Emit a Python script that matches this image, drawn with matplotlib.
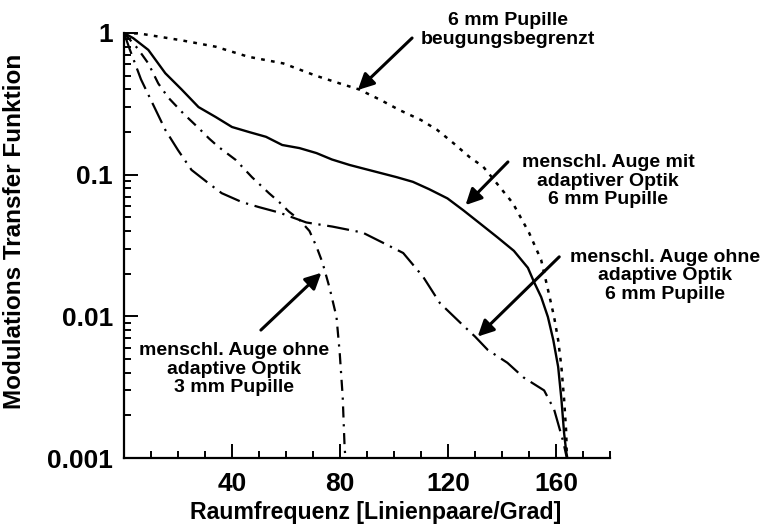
import matplotlib
matplotlib.use("Agg")
import matplotlib.pyplot as plt
from matplotlib.ticker import FixedLocator, LogLocator, NullFormatter

plt.rcParams['font.family'] = ['Liberation Sans', 'DejaVu Sans']
plt.rcParams['font.weight'] = 'bold'

# diffraction limited, 6 mm pupil (dotted)
x_diff = [0, 6, 21, 34, 46, 59, 71, 80, 87, 95, 102, 110, 116, 122, 128, 133, 137,
          144, 150, 154.5, 157, 159.3, 160.8, 162, 163, 163.8, 164]
y_diff = [1.0, 0.99, 0.89, 0.80, 0.68, 0.61, 0.50, 0.44, 0.40, 0.337, 0.286, 0.243,
          0.207, 0.167, 0.133, 0.114, 0.092, 0.063, 0.039, 0.025, 0.0155, 0.0099,
          0.0068, 0.0044, 0.0026, 0.0015, 0.001]

# human eye with adaptive optics, 6 mm pupil (solid)
x_ao = [0, 3.4, 9, 15.3, 21.3, 27.6, 34, 40, 46.3, 52.6, 58.6, 65, 71.3, 77, 83.6, 89,
        94.8, 101, 107, 113, 119.8, 125.7, 132, 138.4, 144.4, 149.6, 151.9, 154.5, 157,
        159, 160.8, 162, 163, 163.8, 164.2]
y_ao = [1.0, 0.92, 0.76, 0.52, 0.40, 0.30, 0.255, 0.217, 0.20, 0.185, 0.162, 0.154,
        0.142, 0.128, 0.117, 0.110, 0.103, 0.096, 0.089, 0.079, 0.068, 0.056, 0.045,
        0.036, 0.029, 0.022, 0.0174, 0.0137, 0.0099, 0.0068, 0.0044, 0.0026, 0.0015,
        0.0011, 0.001]

# human eye without adaptive optics, 3 mm pupil (dash-dot)
x_3mm = [0, 5, 9, 12.7, 16.4, 22, 28, 31.5, 35, 41.4, 47.4, 53.7, 57.5, 61, 65, 68.7,
         71.3, 73.5, 76.1, 78.7, 79.9, 81, 81.7, 82]
y_3mm = [1.0, 0.78, 0.61, 0.44, 0.35, 0.27, 0.21, 0.18, 0.157, 0.127, 0.096, 0.074,
         0.064, 0.055, 0.048, 0.040, 0.031, 0.024, 0.016, 0.0099, 0.0055, 0.0027,
         0.0012, 0.001]

# human eye without adaptive optics, 6 mm pupil (long dash)
x_6mm = [0, 2.2, 6.3, 11.6, 15.3, 20, 25, 31.3, 36.2, 43.7, 50, 57.5, 62.3, 67.5, 77.2,
         88.4, 96, 103.4, 110.8, 117, 124.6, 130, 134.7, 142, 148, 155.6, 159.3, 162.7,
         164]
y_6mm = [1.0, 0.76, 0.47, 0.29, 0.207, 0.149, 0.108, 0.087, 0.074, 0.064, 0.059, 0.054,
         0.050, 0.046, 0.043, 0.039, 0.033, 0.028, 0.019, 0.0124, 0.0090, 0.0072,
         0.0058, 0.0047, 0.0037, 0.0030, 0.0022, 0.0013, 0.001]

x_major = [40, 80, 120, 160]
y_major = [0.001, 0.01, 0.1, 1]
y_labels = ['0.001', '0.01', '0.1', '1']

fig = plt.figure(figsize=(7.62, 5.28), dpi=100)
ax = fig.add_axes([124 / 762, 70 / 528, 486 / 762, 425 / 528])

ax.plot(x_diff, y_diff, color='black', lw=1.8, ls=(0, (1.5, 2.5)))
ax.plot(x_ao, y_ao, color='black', lw=1.7, ls='-')
ax.plot(x_3mm, y_3mm, color='black', lw=1.6, ls=(0, (5, 3, 1, 3)))
ax.plot(x_6mm, y_6mm, color='black', lw=1.6, ls=(0, (10, 3, 1, 3)))

ax.set_yscale('log')
ax.set_xlim(0, 180)
ax.set_ylim(0.001, 1)

ax.xaxis.set_major_locator(FixedLocator(x_major))
ax.xaxis.set_minor_locator(FixedLocator(list(range(10, 181, 10))))
ax.set_yticks(y_major)
ax.set_yticklabels(y_labels)
ax.yaxis.set_minor_locator(LogLocator(base=10, subs=range(2, 10)))
ax.yaxis.set_minor_formatter(NullFormatter())

ax.tick_params(which='both', direction='in', width=1.4, labelsize=19, top=False, right=False)
ax.tick_params(which='major', length=10)
ax.tick_params(which='minor', length=5)
ax.tick_params(axis='x', pad=10)
ax.tick_params(axis='y', pad=8)
for lab in ax.get_xticklabels() + ax.get_yticklabels():
    lab.set_fontweight('bold')

for side in ['top', 'right']:
    ax.spines[side].set_visible(False)
for side in ['left', 'bottom']:
    ax.spines[side].set_linewidth(1.6)

fig.text(376 / 762, 1 - 513 / 528, 'Raumfrequenz [Linienpaare/Grad]',
         ha='center', va='center', fontsize=16.7, fontweight='bold')
fig.text(15 / 762, 1 - 231 / 528, 'Modulations Transfer Funktion',
         ha='center', va='center', rotation=90, fontsize=17.5, fontweight='bold')

notes = [
    ('6 mm Pupille\nbeugungsbegrenzt', (508, 30), (106.7, 0.922), (86.6, 0.396)),
    ('menschl. Auge mit\nadaptiver Optik\n6 mm Pupille', (608, 181), (142.2, 0.123), (126.5, 0.061)),
    ('menschl. Auge ohne\nadaptive Optik\n6 mm Pupille', (665, 276), (161.2, 0.0263), (131, 0.0072)),
    ('menschl. Auge ohne\nadaptive Optik\n3 mm Pupille', (234, 369), (50.7, 0.0080), (73.1, 0.0203)),
]
for text, (tx, ty), start, end in notes:
    fig.text(tx / 762, 1 - ty / 528, text, ha='center', va='center',
             fontsize=14, fontweight='bold', linespacing=1.12)
    ax.annotate('', xy=end, xytext=start, annotation_clip=False,
                arrowprops=dict(arrowstyle='-|>', color='black', lw=2.2,
                                mutation_scale=24, shrinkA=0, shrinkB=0))

fig.savefig('out.png', dpi=100)
